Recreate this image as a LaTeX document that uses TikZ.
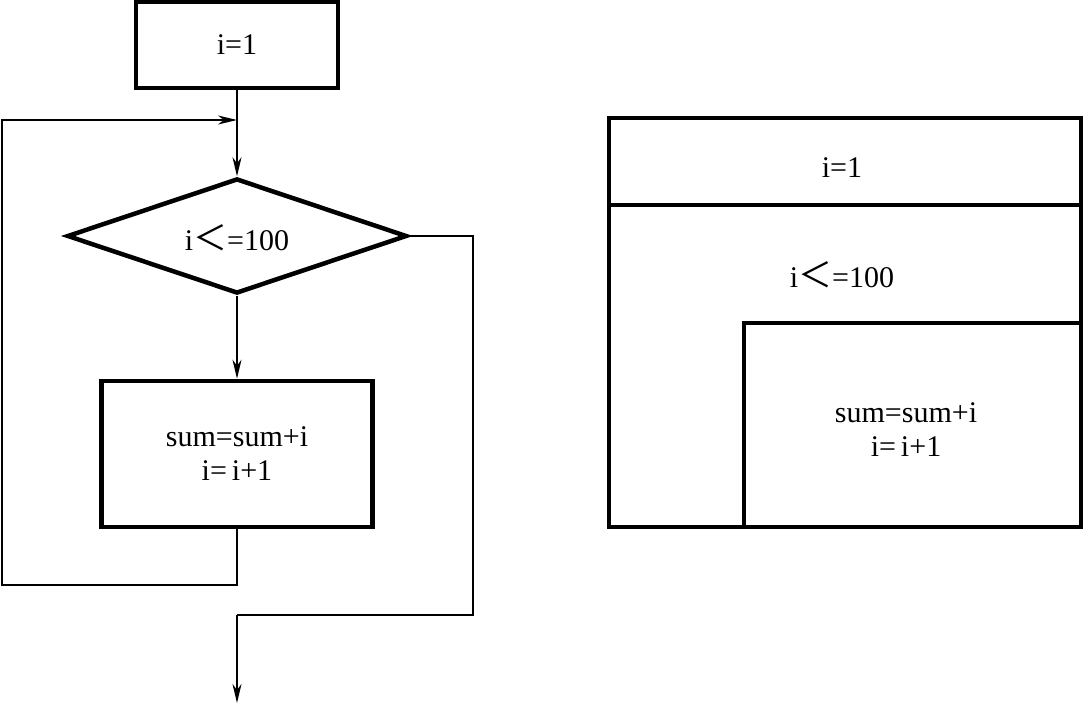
\documentclass[tikz,border=0pt]{standalone}
\usepackage{fontspec}
\setmainfont{Liberation Serif}
\newfontfamily\cjk{Noto Sans CJK SC}
\usetikzlibrary{arrows.meta,shapes.geometric}
\begin{document}
\begin{tikzpicture}[x=1pt,y=-1pt,
  thickbox/.style={draw,line width=4.5pt,inner sep=0pt},
  thinline/.style={line width=2pt},
  arr/.style={thinline,-{Stealth[length=19pt,width=9pt,inset=6pt]}},
  txt/.style={font=\fontsize{30}{34}\selectfont,align=center}]
\useasboundingbox (0,0) rectangle (1083,704);
% left flowchart
\node[thickbox,minimum width=202pt,minimum height=86pt,txt] (init) at (237,45) {i=1};
\node[thickbox,diamond,minimum width=340pt,minimum height=115pt,aspect=2.96] (cond) at (237,236) {};
\node[txt] (condt) at (237,238) {i{\cjk\fontsize{34}{34}\selectfont ＜}=100};
\node[thickbox,minimum width=271pt,minimum height=146pt,txt] (body) at (237,454) {sum=sum+i\\i=\,i+1};
\coordinate (join) at (237,120);
\coordinate (b1) at (237,585);
\coordinate (b2) at (2,585);
\coordinate (b3) at (2,120);
\coordinate (r2) at (473,615);
\coordinate (r3) at (237,615);
\coordinate (endp) at (237,703);
\draw[thinline] (init.south) -- (join);
\draw[arr] (join) -- (cond.north);
\draw[arr] (cond.south) -- (body.north);
\draw[thinline] (body.south) -- (b1) -- (b2) -- (b3) -- (203,120);
\draw[arr] (b3) -- (join);
\draw[thinline] (cond.east) -- (cond.east -| r2) -- (r2) -- (r3);
\draw[arr] (r3) -- (endp);
% right N-S diagram
\node[draw,line width=4pt,minimum width=472pt,minimum height=409pt,inner sep=0pt] (outer) at (845,322.5) {};
\node[draw,line width=4pt,minimum width=337pt,minimum height=204pt,inner sep=0pt] (inner) at (912.5,425) {};
\coordinate (sepL) at (609,205);
\coordinate (sepR) at (1081,205);
\draw[line width=4pt] (sepL) -- (sepR);
\node[txt] (ns1) at (842,168) {i=1};
\node[txt] (ns2) at (842,275) {i{\cjk\fontsize{34}{34}\selectfont ＜}=100};
\node[txt] (ns3) at (906,430) {sum=sum+i\\i=\,i+1};
\end{tikzpicture}
\end{document}
